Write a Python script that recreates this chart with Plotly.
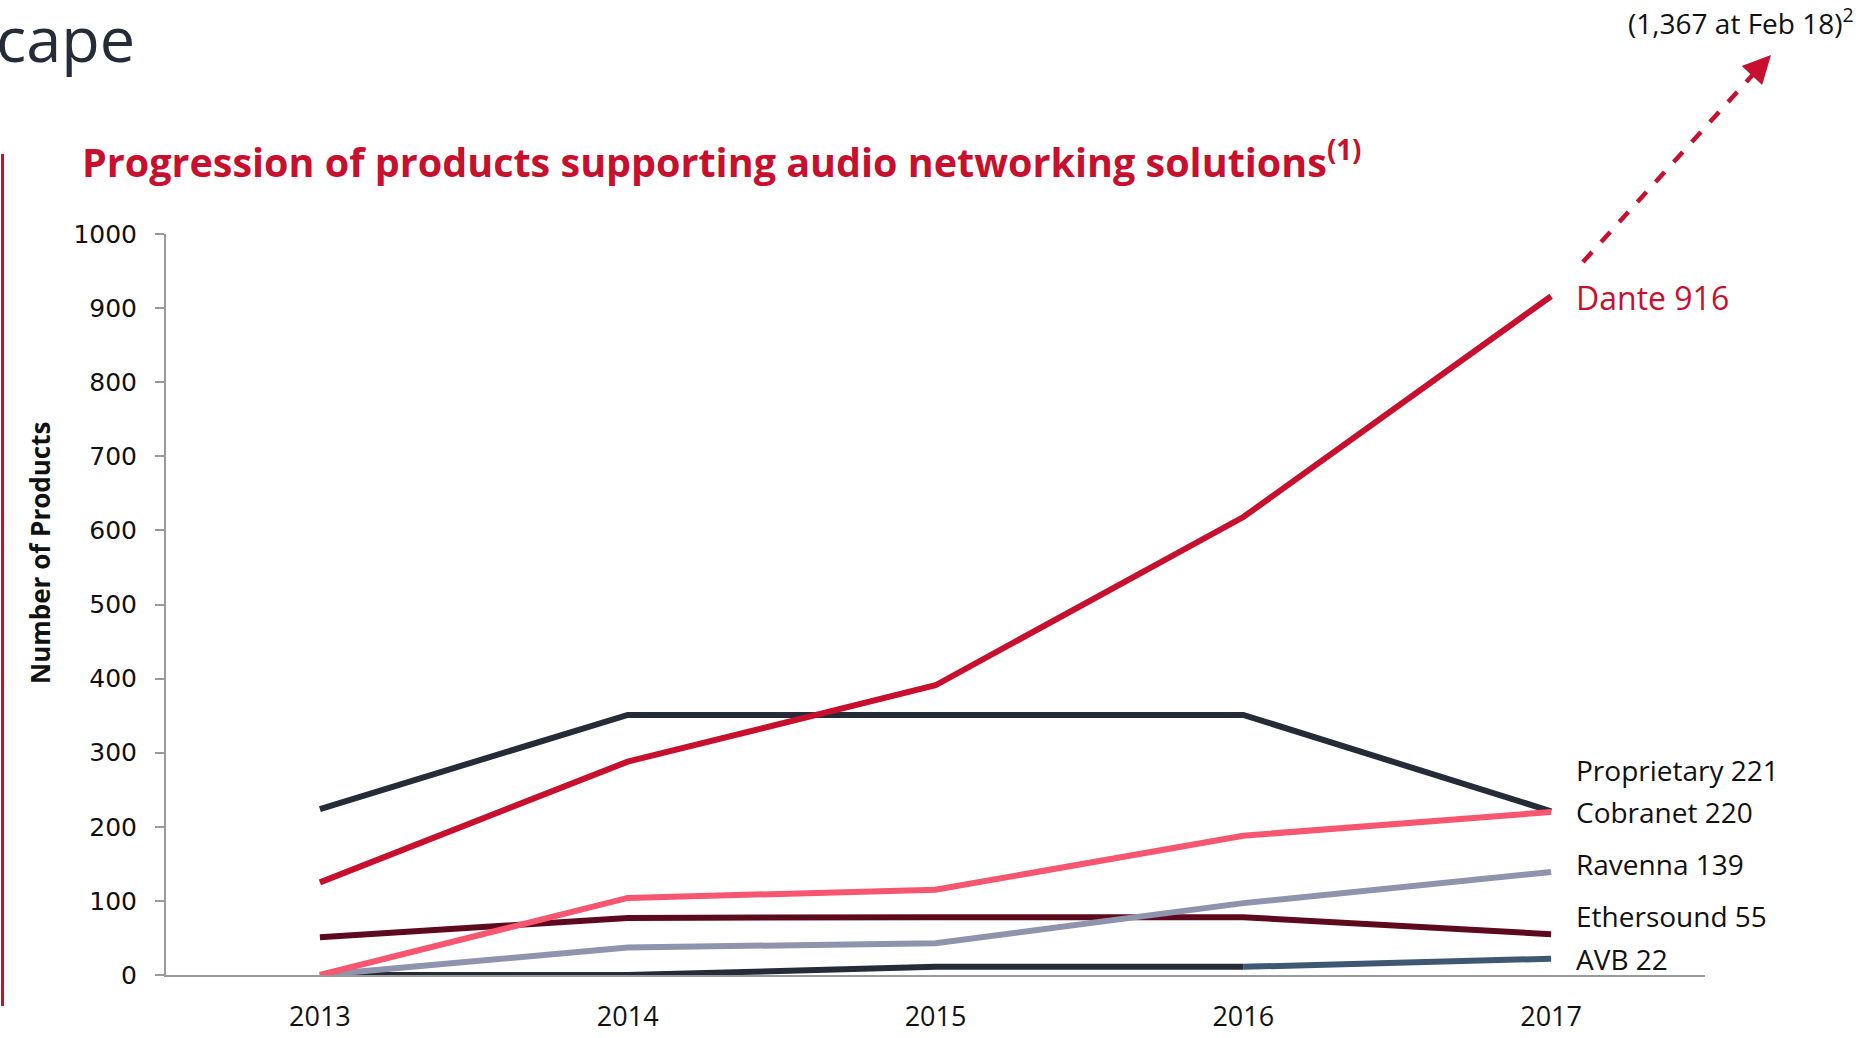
import plotly.graph_objects as go

# ---------------- data ----------------
years = ["2013", "2014", "2015", "2016", "2017"]
dante = [125, 288, 391, 618, 916]
proprietary = [224, 351, 351, 351, 221]
cobranet = [0, 104, 115, 188, 220]
ravenna = [0, 37, 43, 97, 139]
ethersound = [51, 77, 78, 78, 55]
avb = [0, 0, 11, 11, 22]

y_ticks = [0, 100, 200, 300, 400, 500, 600, 700, 800, 900, 1000]

end_labels = ["Dante 916", "Proprietary 221", "Cobranet 220", "Ravenna 139",
              "Ethersound 55", "AVB 22"]
title_text = "Progression of products supporting audio networking solutions<sup>(1)</sup>"
note_text = "(1,367 at Feb 18)<sup>2</sup>"

# ---------------- styling ----------------
W, H = 1856, 1038
L, R, T, B = 166, 1705, 234, 975

CRIMSON = "#c8102e"
NAVY = "#262b38"
PINK = "#f6566f"
LAVENDER = "#8f93ae"
MAROON = "#5e0a1e"
STEEL = "#3e5874"
AXIS = "#9a9a9a"


def px(xp):
    return (xp - L) / (R - L)


def py(yp):
    return (B - yp) / (B - T)


fig = go.Figure()


def add_line(y, color, xs=years):
    fig.add_trace(go.Scatter(x=xs, y=y, mode="lines", cliponaxis=False,
                             line=dict(color=color, width=6),
                             hoverinfo="skip", showlegend=False))


add_line(avb[3:], STEEL, years[3:])
add_line(avb[:4], NAVY, years[:4])
add_line(ethersound, MAROON)
add_line(proprietary, NAVY)
add_line(ravenna, LAVENDER)
add_line(cobranet, PINK)
add_line(dante, CRIMSON)

annotations = []

# big partial heading at top-left
annotations.append(dict(text="cape", xref="paper", yref="paper", x=px(-6), y=py(37),
                        xanchor="left", yanchor="middle", showarrow=False,
                        font=dict(family="Open Sans", size=63, color=NAVY)))
# chart title
annotations.append(dict(text=title_text, xref="paper", yref="paper", x=px(80), y=py(160),
                        xanchor="left", yanchor="middle", showarrow=False,
                        font=dict(family="Open Sans", size=39.5, color=CRIMSON, weight="bold")))
# y axis title
annotations.append(dict(text="Number of Products", xref="paper", yref="paper", x=px(40), y=py(553),
                        xanchor="center", yanchor="middle", textangle=-90, showarrow=False,
                        font=dict(family="Open Sans", size=26, color="#111111", weight="bold")))
# note at top right
annotations.append(dict(text=note_text, xref="paper", yref="paper", x=px(1626), y=py(21),
                        xanchor="left", yanchor="middle", showarrow=False,
                        font=dict(family="Open Sans", size=28, color="#111111")))

# end labels
label_y = [297, 770, 812, 864, 916, 959]
for i, (txt, ly) in enumerate(zip(end_labels, label_y)):
    annotations.append(dict(text=txt, xref="paper", yref="paper", x=px(1574), y=py(ly),
                            xanchor="left", yanchor="middle", showarrow=False,
                            font=dict(family="Open Sans", size=32 if i == 0 else 28,
                                      color=CRIMSON if i == 0 else "#111111")))

# arrowhead for dashed projection
annotations.append(dict(text="", xref="paper", yref="paper", x=px(1771), y=py(55),
                        ax=-14, ay=15, showarrow=True, arrowhead=2, arrowsize=1.4,
                        arrowwidth=4, arrowcolor=CRIMSON))

shapes = [
    dict(type="line", xref="paper", yref="paper", x0=px(1583), y0=py(262),
         x1=px(1758), y1=py(69), line=dict(color=CRIMSON, width=4.5, dash="dash")),
    dict(type="line", xref="paper", yref="paper", x0=px(2.5), y0=py(154),
         x1=px(2.5), y1=py(1006), line=dict(color=CRIMSON, width=3)),
]

fig.update_layout(
    width=W, height=H,
    margin=dict(l=L, r=W - R, t=T, b=H - B, pad=0, autoexpand=False),
    paper_bgcolor="white", plot_bgcolor="white",
    showlegend=False,
    annotations=annotations,
    shapes=shapes,
    xaxis=dict(type="category", categoryorder="array", categoryarray=years,
               range=[-0.5, 4.5], showgrid=False, zeroline=False, automargin=False,
               showline=True, linecolor=AXIS, linewidth=2, ticks="",
               ticklabelstandoff=17,
               tickfont=dict(family="Open Sans", size=27, color="#111111")),
    yaxis=dict(range=[0, 1000], tickvals=y_ticks, showgrid=False, zeroline=False,
               automargin=False,
               showline=True, linecolor=AXIS, linewidth=2, ticks="outside",
               ticklen=9, tickcolor=AXIS, tickwidth=2, ticklabelstandoff=13,
               tickfont=dict(family="DejaVu Sans", size=25, color="#111111")),
)

fig.write_html("out.html")
